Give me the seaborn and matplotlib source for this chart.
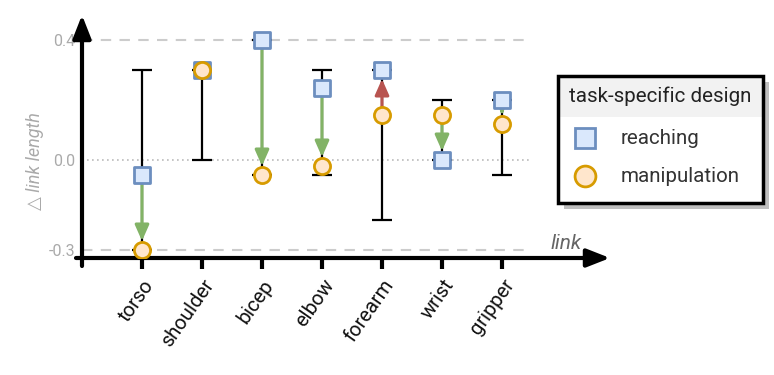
import numpy as np
import pandas as pd
import matplotlib
matplotlib.use("Agg")
import matplotlib.pyplot as plt
import seaborn as sns
from matplotlib.patches import Rectangle
from matplotlib.lines import Line2D

# ---------------- data ----------------
links = ["torso", "shoulder", "bicep", "elbow", "forearm", "wrist", "gripper"]
reaching = [-0.05, 0.30, 0.40, 0.24, 0.30, 0.00, 0.20]
manipulation = [-0.30, 0.30, -0.05, -0.02, 0.15, 0.15, 0.12]
range_low = [-0.30, 0.00, -0.05, -0.05, -0.20, 0.00, -0.05]
range_high = [0.30, 0.30, 0.40, 0.30, 0.30, 0.20, 0.20]
# arrow start design for each link (None = no arrow)
arrow_from = ["reaching", None, "reaching", "reaching", "manipulation", "manipulation", "reaching"]
ytick_values = [-0.3, 0.0, 0.4]
ytick_labels = ["-0.3", "0.0", "0.4"]
legend_title = "task-specific design"

# ---------------- style ----------------
sns.set_theme(style="white")
plt.rcParams["font.family"] = ["Roboto", "DejaVu Sans"]

BLUE_F, BLUE_E = "#dae8fc", "#6c8ebf"
ORNG_F, ORNG_E = "#ffe6cc", "#d79b00"
GREEN, RED = "#82b366", "#b85450"
GREY_TXT = "#aaaaaa"

W, H = 774, 375
fig = plt.figure(figsize=(W / 100, H / 100), dpi=100)
x0px, x1px = 82, 610
y0px, y1px = 258, 15
ax = fig.add_axes([x0px / W, 1 - y0px / H, (x1px - x0px) / W, (y0px - y1px) / H])
xmax = (x1px - x0px) / 60.0
ylo, yhi = -0.3 - 8 / 300, 0.4 + 25 / 300
ax.set_xlim(0, xmax)
ax.set_ylim(ylo, yhi)
for s in ax.spines.values():
    s.set_visible(False)

pos = np.arange(1, len(links) + 1)
df = pd.DataFrame({
    "pos": np.concatenate([pos, pos]),
    "value": reaching + manipulation,
    "design": ["reaching"] * len(links) + ["manipulation"] * len(links),
})

# reference lines
ax.plot([0, 7.5], [0.4, 0.4], color="#cccccc", lw=1.5, ls=(0, (5, 4)), zorder=1)
ax.plot([0, 7.5], [-0.3, -0.3], color="#cccccc", lw=1.5, ls=(0, (5, 4)), zorder=1)
ax.plot([0, 7.5], [0.0, 0.0], color="#bbbbbb", lw=1.2, ls=(0, (1, 2)), zorder=1)

# range bars
lo = np.array(range_low)
hi = np.array(range_high)
mid = (lo + hi) / 2
ax.errorbar(pos, mid, yerr=[mid - lo, hi - mid], fmt="none", ecolor="black",
            elinewidth=1.6, capsize=7, capthick=1.6, zorder=2)

# arrows
for i, src in enumerate(arrow_from):
    if src is None:
        continue
    a = reaching[i] if src == "reaching" else manipulation[i]
    b = manipulation[i] if src == "reaching" else reaching[i]
    col = GREEN if b < a else RED
    ax.annotate("", xy=(pos[i], b), xytext=(pos[i], a),
                arrowprops=dict(arrowstyle="-|>,head_length=0.95,head_width=0.42",
                                color=col, lw=2.2, shrinkA=6, shrinkB=6.5,
                                mutation_scale=10), zorder=3)

# markers
sns.scatterplot(data=df[df.design == "reaching"], x="pos", y="value", marker="s",
                s=120, color=BLUE_F, edgecolor=BLUE_E, linewidth=2, ax=ax,
                zorder=4, legend=False)
sns.scatterplot(data=df[df.design == "manipulation"], x="pos", y="value", marker="o",
                s=135, color=ORNG_F, edgecolor=ORNG_E, linewidth=2, ax=ax,
                zorder=5, legend=False)

# axes arrows
ax.annotate("", xy=(xmax, ylo), xytext=(-0.1, ylo), xycoords="data",
            arrowprops=dict(arrowstyle="-|>,head_length=1.4,head_width=0.55", color="black",
                            lw=3, shrinkA=0, shrinkB=0, mutation_scale=10),
            annotation_clip=False)
ax.annotate("", xy=(0, yhi), xytext=(0, ylo - 8 / 300),
            arrowprops=dict(arrowstyle="-|>,head_length=1.4,head_width=0.55", color="black",
                            lw=3, shrinkA=0, shrinkB=0, mutation_scale=10),
            annotation_clip=False)

ax.set_xticks(pos)
ax.set_xticklabels(links, rotation=55, ha="right", va="top", rotation_mode="anchor",
                   fontsize=14.5, color="#111111")
ax.tick_params(axis="x", length=8, width=3, color="black", direction="out", pad=5, bottom=True)
ax.set_yticks(ytick_values)
ax.set_yticklabels(ytick_labels, fontsize=11.5, color=GREY_TXT)
ax.tick_params(axis="y", length=0, pad=5)
ax.set_xlabel("")
ax.set_ylabel("")

fig.text(35 / W, 1 - 161 / H, "△ link length", rotation=90, ha="center", va="center",
         fontsize=13, style="italic", color=GREY_TXT)
fig.text(566 / W, 1 - 244 / H, "link", ha="center", va="center",
         fontsize=15, style="italic", color="#666666")

# legend box (manual)
lx0, ly0, lx1, ly1 = 558, 76, 763, 203
def fr(x0, y0, x1, y1):
    return (x0 / W, 1 - y1 / H), (x1 - x0) / W, (y1 - y0) / H
xy, w, h = fr(lx0 + 6, ly0 + 6, lx1 + 6, ly1 + 6)
fig.patches.append(Rectangle(xy, w, h, transform=fig.transFigure, facecolor="#bfbfbf",
                             edgecolor="none", zorder=10))
xy, w, h = fr(lx0, ly0, lx1, ly1)
fig.patches.append(Rectangle(xy, w, h, transform=fig.transFigure, facecolor="white",
                             edgecolor="none", zorder=11))
xy, w, h = fr(lx0, ly0, lx1, 117)
fig.patches.append(Rectangle(xy, w, h, transform=fig.transFigure, facecolor="#f2f2f2",
                             edgecolor="none", zorder=12))
xy, w, h = fr(lx0, ly0, lx1, ly1)
fig.patches.append(Rectangle(xy, w, h, transform=fig.transFigure, facecolor="none",
                             edgecolor="black", lw=2.5, zorder=13))
fig.text(660 / W, 1 - 96 / H, legend_title, ha="center", va="center", fontsize=14.8,
         color="#222222", zorder=14)
fig.lines.append(Line2D([585 / W], [1 - 138 / H], transform=fig.transFigure, marker="s",
                        markersize=15, markerfacecolor=BLUE_F, markeredgecolor=BLUE_E,
                        markeredgewidth=2, zorder=14))
fig.lines.append(Line2D([585 / W], [1 - 176 / H], transform=fig.transFigure, marker="o",
                        markersize=15, markerfacecolor=ORNG_F, markeredgecolor=ORNG_E,
                        markeredgewidth=2, zorder=14))
fig.text(621 / W, 1 - 139 / H, "reaching", ha="left", va="center", fontsize=14.8,
         color="#333333", zorder=14)
fig.text(621 / W, 1 - 176 / H, "manipulation", ha="left", va="center", fontsize=14.8,
         color="#333333", zorder=14)

fig.savefig("out.png", dpi=100)
